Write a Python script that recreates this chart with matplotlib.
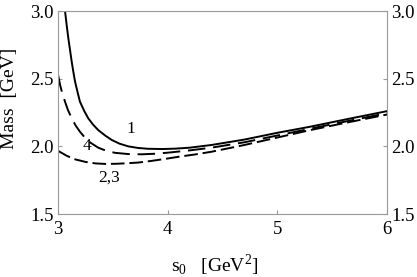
import numpy as np
import matplotlib.pyplot as plt

plt.rcParams['font.family'] = ['Liberation Serif', 'DejaVu Serif']
plt.rcParams['mathtext.fontset'] = 'custom'
plt.rcParams['mathtext.rm'] = 'Liberation Serif'

# curve 1 (solid)
s1 = [3.064, 3.08, 3.094, 3.11, 3.125, 3.14, 3.155, 3.18, 3.2, 3.24, 3.276, 3.32, 3.367,
      3.43, 3.49, 3.56, 3.64, 3.73, 3.82, 3.95, 4.07, 4.2, 4.4, 4.7, 5.0, 5.3, 5.6, 6.0]
m1 = [3.0, 2.89, 2.80, 2.71, 2.625, 2.55, 2.48, 2.395, 2.33, 2.26, 2.207, 2.16, 2.12,
      2.08, 2.047, 2.02, 2.0, 1.988, 1.982, 1.98, 1.983, 1.99, 2.01, 2.05, 2.10, 2.145, 2.195, 2.26]

# curve 4 (long dashes)
s4 = [3.0, 3.02, 3.04, 3.064, 3.09, 3.125, 3.16, 3.2, 3.25, 3.3, 3.367, 3.44, 3.52,
      3.64, 3.76, 3.88, 4.0, 4.2, 4.4, 4.7, 5.0, 5.3, 5.6, 6.0]
m4 = [2.53, 2.45, 2.39, 2.33, 2.27, 2.207, 2.155, 2.108, 2.06, 2.025, 1.99, 1.967, 1.952,
      1.943, 1.941, 1.945, 1.953, 1.97, 1.99, 2.03, 2.08, 2.13, 2.18, 2.245]

# curve 2,3 (short dashes)
s23 = [3.0, 3.08, 3.155, 3.25, 3.34, 3.43, 3.53, 3.63, 3.73, 3.85, 4.0, 4.1, 4.25, 4.4,
       4.7, 5.0, 5.3, 5.6, 6.0]
m23 = [1.967, 1.93, 1.904, 1.885, 1.874, 1.87, 1.871, 1.875, 1.88, 1.892, 1.91, 1.923, 1.94, 1.96,
       2.01, 2.065, 2.12, 2.17, 2.235]

fig = plt.figure(figsize=(4.17, 2.77), dpi=100)
ax = fig.add_axes([58 / 417, 1 - 214 / 277, 329 / 417, 203 / 277])

ax.plot(s1, m1, color='black', lw=1.4)
ax.plot(s4, m4, color='black', lw=1.4, dashes=(9, 4))
ax.plot(s23, m23, color='black', lw=1.4, dashes=(7, 2.5))

ax.text(3.66, 2.125, '1', fontsize=12.5, ha='center', va='center')
ax.text(3.26, 2.0, '4', fontsize=12.5, ha='center', va='center')
ax.text(3.47, 1.765, '2,3', fontsize=12.5, ha='center', va='center')

ax.set_xlim(3, 6)
ax.set_ylim(1.5, 3.0)
ax.set_xticks([3, 4, 5, 6])
ax.set_yticks([1.5, 2.0, 2.5, 3.0])
ax.set_yticklabels(['1.5', '2.0', '2.5', '3.0'])
ax.tick_params(direction='in', length=3, color='#999999', labelsize=13.5,
               right=True, labelright=True)
ax.tick_params(axis='x', pad=5)
ax.tick_params(axis='y', pad=3)
for sp in ax.spines.values():
    sp.set_color('#999999')
    sp.set_linewidth(0.8)

fig.text(215 / 417, 1 - 265 / 277, r'$\mathrm{s_0}$   [GeV$^2$]', fontsize=14,
         ha='center', va='center')
fig.text(10 / 417, 1 - 98 / 277, 'Mass  [GeV]', fontsize=14, rotation=90,
         ha='center', va='center')

fig.savefig('out.png', dpi=100)
